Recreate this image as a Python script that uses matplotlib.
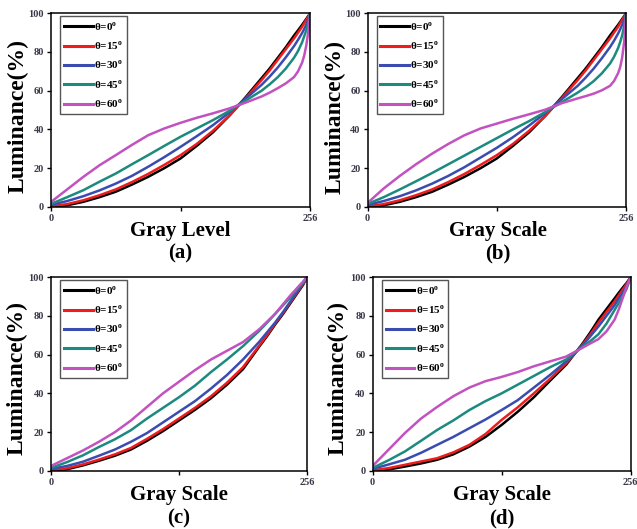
import matplotlib
matplotlib.use("Agg")
import matplotlib.pyplot as plt

plt.rcParams['font.family'] = ['Liberation Serif', 'DejaVu Serif']
plt.rcParams['font.weight'] = 'bold'
plt.rcParams['mathtext.fontset'] = 'custom'
plt.rcParams['mathtext.rm'] = 'Liberation Serif:bold'
plt.rcParams['mathtext.bf'] = 'Liberation Serif:bold'

# gray level sample points
gray = [0, 16, 32, 48, 64, 80, 96, 112, 128, 144, 160, 176, 192, 208, 216, 224,
        232, 240, 244, 248, 250, 252, 254, 256]

angles = ['0', '15', '30', '45', '60']
colors = ['#000000', '#ee1c1c', '#3a4cb0', '#1c8a7e', '#c252c0']

# (a) Gray Level
a_0 = [0, 0.8, 2.6, 5, 7.8, 11.5, 15.5, 20, 25, 31.5, 38.5, 47, 56.5, 66.5, 71.5, 77, 82.5, 88.5, 91.2, 94, 95.5, 97, 98.5, 100]
a_15 = [0.3, 1.4, 3.4, 6, 9, 12.8, 17, 21.7, 26.7, 32.5, 39.3, 47, 56, 65.5, 70.5, 76, 81.5, 87, 90, 93, 94.8, 96.5, 98.2, 100]
a_30 = [1, 3, 5.5, 8.5, 12, 16, 20.7, 25.7, 31, 36.5, 42.2, 48.7, 55.8, 63, 67.3, 72, 77.3, 83, 86.3, 89.8, 91.8, 94, 96.8, 100]
a_45 = [1.5, 5, 8.6, 13, 17.2, 22, 26.7, 31.5, 36.2, 40.5, 44.8, 49.5, 54.8, 60, 63.3, 67, 71.5, 77, 80.5, 85, 88, 91, 95, 100]
a_60 = [2.5, 9, 15.5, 21.5, 26.7, 32, 37, 40.5, 43.4, 46, 48.3, 50.8, 53.8, 57, 59, 61.3, 63.8, 67, 70, 74.5, 78, 83, 90, 100]

# (b) Gray Scale
b_0 = [0, 0.8, 2.6, 5, 7.8, 11.5, 15.5, 20, 25, 31.5, 38.5, 47, 56.5, 66.5, 71.5, 77, 82.5, 88.5, 91.2, 94, 95.5, 97, 98.5, 100]
b_15 = [0.3, 1.4, 3.4, 6, 9, 12.8, 17, 21.7, 26.7, 32.5, 39.3, 47, 56, 65.5, 70.5, 76, 81.5, 87, 90, 93, 94.8, 96.5, 98.2, 100]
b_30 = [1, 3, 5.5, 8.5, 12, 16, 20.5, 25.5, 30.5, 36, 42, 48.5, 55.5, 62.5, 66.8, 71.5, 76.8, 82.5, 85.8, 89.5, 91.6, 94, 96.8, 100]
b_45 = [1.5, 5, 9, 13.2, 17.5, 22, 26.5, 31, 35.5, 40, 44.3, 49, 54, 59, 61.8, 65, 69, 74, 77.5, 82, 85, 88.5, 93.5, 100]
b_60 = [2, 9.5, 16, 22, 27.5, 32.5, 37, 40.5, 43, 45.5, 47.8, 50.2, 53.5, 56, 57.2, 58.5, 60.2, 62.5, 65, 69, 72, 77, 85, 100]

# (c) Gray Scale
c_0 = [0, 0.8, 2.8, 5.2, 7.8, 11, 15.5, 20.5, 26, 31.5, 37.5, 44.5, 52.5, 64, 69.5, 75.5, 81, 87, 90, 93, 94.5, 96, 98, 100]
c_15 = [0.3, 1.3, 3.3, 5.8, 8.5, 11.8, 16.5, 21.5, 27, 32.5, 38.5, 45.5, 53.5, 64.5, 70, 76, 81.5, 87.5, 90.5, 93.5, 95, 96.5, 98.2, 100]
c_30 = [1, 2.5, 4.7, 7.8, 11, 15, 19.5, 25, 30.5, 36, 42.5, 49.5, 57.5, 66.5, 71.5, 76.5, 82, 88, 91, 94, 95.5, 97, 98.5, 100]
c_45 = [1.5, 4.5, 8, 12.3, 16.3, 21, 27, 32.5, 38, 44, 51, 57.5, 64.4, 72.2, 76.5, 81, 85.5, 90, 92.5, 95, 96.2, 97.5, 98.8, 100]
c_60 = [2.5, 6.5, 10.5, 15, 20, 26, 33, 40, 46, 52, 57.5, 62, 66.5, 73, 77, 81, 86, 91, 93.2, 95.5, 96.6, 97.6, 98.8, 100]

# (d) Gray Scale
d_0 = [0, 0.7, 2.2, 3.8, 5.7, 8.5, 12.5, 17.5, 23.7, 30.5, 38, 46.5, 54.8, 65.5, 71.5, 78, 83.5, 89, 91.8, 94.5, 95.8, 97, 98.5, 100]
d_15 = [0.3, 1.4, 3.1, 4.8, 6.5, 9.5, 13.4, 19, 26.3, 32.8, 40, 47.5, 55.5, 65, 70.5, 76.5, 82, 87.5, 90.5, 93.5, 95, 96.5, 98.2, 100]
d_30 = [1, 3.3, 5.7, 9.3, 13.4, 17.5, 22, 26.5, 31.4, 36.5, 43, 49.5, 56.5, 64.5, 69.5, 74.5, 80, 85.5, 88.8, 92, 93.8, 95.5, 97.8, 100]
d_45 = [1.5, 5.5, 10, 15.5, 21.1, 26, 31.4, 36, 40, 44.5, 49, 53.5, 57.5, 64, 67, 70.5, 76, 83, 86.5, 90, 92, 94, 97, 100]
d_60 = [2.5, 11, 19.5, 27, 33, 38.5, 43, 46.3, 48.5, 51, 54, 56.5, 59, 63.5, 65.8, 68, 72, 78, 83, 89, 92, 95, 97.5, 100]

panels = [
    ([a_0, a_15, a_30, a_45, a_60], 'Gray Level', '(a)'),
    ([b_0, b_15, b_30, b_45, b_60], 'Gray Scale', '(b)'),
    ([c_0, c_15, c_30, c_45, c_60], 'Gray Scale', '(c)'),
    ([d_0, d_15, d_30, d_45, d_60], 'Gray Scale', '(d)'),
]

# axes rectangles in figure fractions
rects = [
    [0.080, 0.609, 0.407, 0.366],
    [0.577, 0.609, 0.406, 0.366],
    [0.080, 0.110, 0.402, 0.366],
    [0.585, 0.110, 0.405, 0.366],
]
# (x center, xlabel baseline, tag baseline, ylabel x, ylabel y) in figure fractions
label_pos = [
    (0.283, 0.554, 0.512, 0.028, 0.780),
    (0.781, 0.554, 0.512, 0.526, 0.778),
    (0.281, 0.055, 0.011, 0.027, 0.285),
    (0.788, 0.055, 0.011, 0.531, 0.285),
]

fig = plt.figure(figsize=(6.37, 5.29), dpi=100)

for (series, xlab, tag), rect, pos in zip(panels, rects, label_pos):
    ax = fig.add_axes(rect)
    for ys, ang, col in zip(series, angles, colors):
        ax.plot(gray, ys, color=col, lw=1.8, label=r'θ=' + ang + r'$^{\mathbf{o}}$')
    ax.set_xlim(0, 256)
    ax.set_ylim(0, 100)
    ax.set_xticks([0, 128, 256])
    ax.set_xticklabels(['0', '', '256'])
    ax.set_yticks([0, 20, 40, 60, 80, 100])
    ax.tick_params(direction='out', length=3, width=1, labelsize=7.5,
                   labelcolor='#3a3a4a', pad=2)
    for s in ax.spines.values():
        s.set_linewidth(1.1)
    leg = ax.legend(loc='upper left', bbox_to_anchor=(0.035, 0.985), borderaxespad=0,
                    fontsize=8, handlelength=2.6, handletextpad=0.1,
                    labelspacing=0.6, borderpad=0.35, fancybox=False,
                    framealpha=1, edgecolor='#555555')
    leg.get_frame().set_linewidth(1.0)
    for line in leg.get_lines():
        line.set_linewidth(2.2)

    xc, xly, tgy, ylx, yly = pos
    fig.text(xc, xly, xlab, ha='center', va='baseline', fontsize=15, fontweight='bold')
    fig.text(xc, tgy, tag, ha='center', va='baseline', fontsize=15, fontweight='bold')
    fig.text(ylx, yly, 'Luminance(%)', ha='center', va='center', rotation=90,
             fontsize=17, fontweight='bold')

fig.savefig('out.png', dpi=100)
plt.close(fig)
